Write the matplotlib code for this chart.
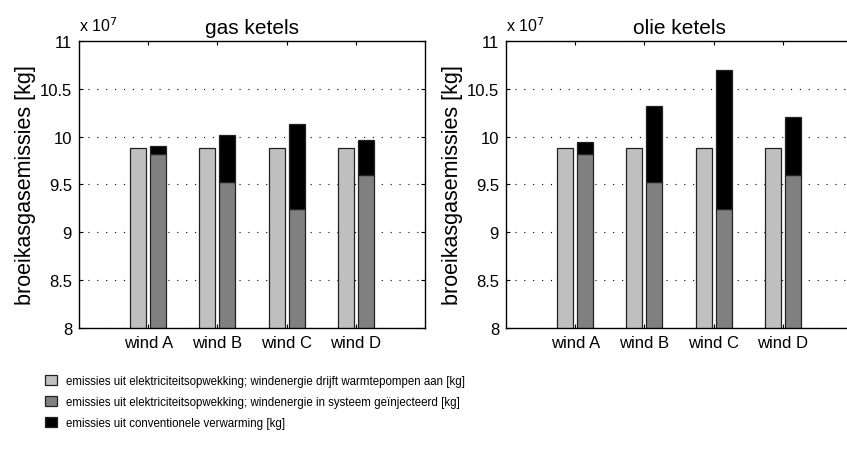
import matplotlib
matplotlib.use("Agg")
import matplotlib.pyplot as plt
from matplotlib.patches import Patch
from matplotlib.ticker import FuncFormatter, FixedLocator
import numpy as np

plt.rcParams['font.family'] = ['Liberation Sans', 'DejaVu Sans']

# Data (greenhouse gas emissions, kg)
scenarios = ["wind A", "wind B", "wind C", "wind D"]
panel_titles = ["gas ketels", "olie ketels"]

# electricity generation emissions, wind drives heat pumps
elec_heatpump = [9.88e7, 9.88e7, 9.88e7, 9.88e7]
# electricity generation emissions, wind injected into the system
elec_injected = [9.816e7, 9.524e7, 9.249e7, 9.600e7]
# conventional heating emissions (stacked on top of injected)
conv_gas = [0.083e7, 0.490e7, 0.883e7, 0.369e7]
conv_oil = [0.128e7, 0.799e7, 1.446e7, 0.609e7]
conventional = [conv_gas, conv_oil]

legend_labels = [
    "emissies uit elektriciteitsopwekking; windenergie drijft warmtepompen aan [kg]",
    "emissies uit elektriciteitsopwekking; windenergie in systeem geïnjecteerd [kg]",
    "emissies uit conventionele verwarming [kg]",
]

c_light = "#c0c0c0"
c_dark = "#808080"
c_black = "#000000"
edge = "#222222"

W, H = 847, 456
fig = plt.figure(figsize=(W / 100, H / 100), dpi=100)

axes_px = [(79, 42, 346, 287), (506, 42, 346, 287)]
x = np.arange(1, len(scenarios) + 1)
bw = 0.23
off = 0.145

for k, (px, ttl, conv) in enumerate(zip(axes_px, panel_titles, conventional)):
    l, t, w, h = px
    ax = fig.add_axes([l / W, (H - t - h) / H, w / W, h / H])
    ax.bar(x - off, elec_heatpump, width=bw, color=c_light, edgecolor=edge, linewidth=0.9, zorder=3)
    ax.bar(x + off, elec_injected, width=bw, color=c_dark, edgecolor=edge, linewidth=0.9, zorder=3)
    ax.bar(x + off, conv, width=bw, bottom=elec_injected, color=c_black, edgecolor=edge,
           linewidth=0.9, zorder=3)
    ax.set_xlim(0, 5)
    ax.set_ylim(8e7, 11e7)
    ax.yaxis.set_major_locator(FixedLocator([8e7, 8.5e7, 9e7, 9.5e7, 10e7, 10.5e7, 11e7]))
    ax.yaxis.set_major_formatter(FuncFormatter(lambda v, p: "%g" % (v / 1e7)))
    ax.set_xticks(x)
    ax.set_xticklabels(scenarios)
    ax.tick_params(direction="in", length=3, width=0.8, top=True, right=True,
                   labelsize=12, pad=5)
    ax.grid(axis="y", linestyle=(0, (1, 7)), color="black", linewidth=0.8, zorder=1)
    for s in ax.spines.values():
        s.set_linewidth(1.0)
        s.set_zorder(4)
    ax.set_title(ttl, fontsize=15, pad=6)
    ax.set_ylabel("broeikasgasemissies [kg]", fontsize=15.5, labelpad=3)
    ax.text(0.0, 1.025, r"x 10$^{7}$", transform=ax.transAxes, fontsize=11.5,
            ha="left", va="bottom")

handles = [Patch(facecolor=c, edgecolor=edge, linewidth=0.9) for c in (c_light, c_dark, c_black)]
fig.legend(handles, legend_labels, loc="upper left", bbox_to_anchor=(45 / W, 1 - 376 / H),
           frameon=False, handlelength=1.0, handleheight=1.0,
           handletextpad=0.85, labelspacing=0.75, borderaxespad=0, borderpad=0,
           prop={'family': ['Liberation Sans'], 'size': 8.3})

fig.savefig("out.png", dpi=100)
